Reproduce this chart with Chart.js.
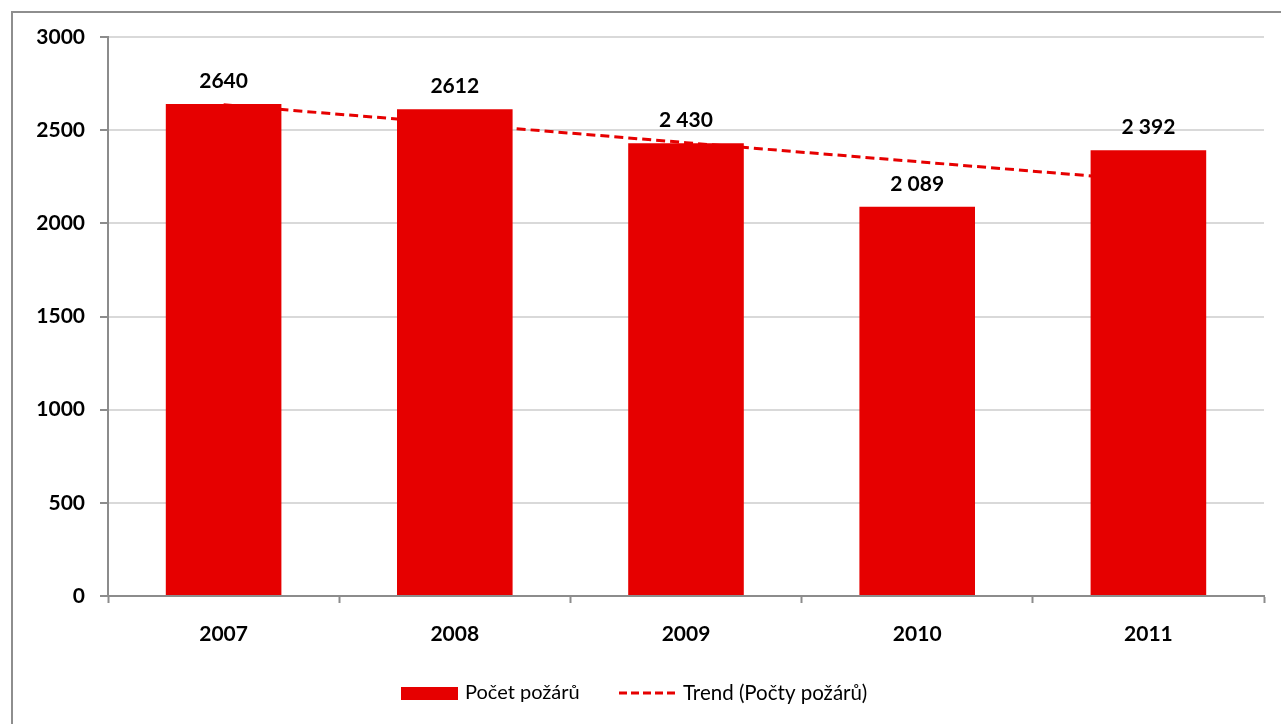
<!DOCTYPE html>
<html>
<head>
<meta charset="utf-8">
<script src="https://cdn.jsdelivr.net/npm/chart.js@4.4.1/dist/chart.umd.min.js"></script>
<style>
html,body{margin:0;padding:0;background:#fff;}
#wrap{position:relative;width:1281px;height:724px;}
</style>
</head>
<body>
<div id="wrap"><canvas id="c" width="1281" height="724"></canvas></div>
<script>
const categories = ["2007", "2008", "2009", "2010", "2011"];
const fireCounts = [2640, 2612, 2430, 2089, 2392];
const valueLabels = ["2640", "2612", "2 430", "2 089", "2 392"];
const trendValues = [2636, 2535, 2433, 2331, 2229];
const yTicks = [0, 500, 1000, 1500, 2000, 2500, 3000];
const seriesNames = ["Počet požárů", "Trend (Počty požárů)"];

const RED = "#e60000";
const AXIS = "#8c8c8c";
const FONT = "Lato, 'Open Sans', sans-serif";

const framePlugin = {
  id: "frame",
  beforeDraw(chart) {
    const ctx = chart.ctx;
    ctx.save();
    ctx.fillStyle = "#fff";
    ctx.fillRect(0, 0, chart.width, chart.height);
    ctx.strokeStyle = "#8e8e8e";
    ctx.lineWidth = 2;
    ctx.beginPath();
    ctx.moveTo(12, chart.height);
    ctx.lineTo(12, 12);
    ctx.lineTo(chart.width, 12);
    ctx.stroke();
    ctx.restore();
  }
};

const labelPlugin = {
  id: "valueLabels",
  afterDatasetsDraw(chart) {
    const ctx = chart.ctx;
    const meta = chart.getDatasetMeta(0);
    ctx.save();
    ctx.font = "bold 21px " + FONT;
    ctx.fillStyle = "#000";
    ctx.textAlign = "center";
    ctx.textBaseline = "alphabetic";
    meta.data.forEach((bar, i) => {
      ctx.fillText(valueLabels[i], bar.x, bar.y - 16);
    });
    ctx.restore();
  }
};

const legendPlugin = {
  id: "customLegend",
  afterDraw(chart) {
    const ctx = chart.ctx;
    ctx.save();
    const y = 693;
    ctx.fillStyle = RED;
    ctx.fillRect(401, 687, 57, 13);
    ctx.font = "20px " + FONT;
    ctx.fillStyle = "#000";
    ctx.textAlign = "left";
    ctx.textBaseline = "middle";
    ctx.fillText(seriesNames[0], 465, y);
    ctx.strokeStyle = RED;
    ctx.lineWidth = 3;
    ctx.setLineDash([8, 4]);
    ctx.beginPath();
    ctx.moveTo(619, y);
    ctx.lineTo(679, y);
    ctx.stroke();
    ctx.setLineDash([]);
    ctx.font = "20.5px " + FONT;
    ctx.fillText(seriesNames[1], 683, y);
    ctx.restore();
  }
};

new Chart(document.getElementById("c"), {
  type: "bar",
  data: {
    labels: categories,
    datasets: [
      {
        type: "bar",
        label: seriesNames[0],
        data: fireCounts,
        backgroundColor: RED,
        borderWidth: 0,
        categoryPercentage: 1.0,
        barPercentage: 0.5,
        order: 1
      },
      {
        type: "line",
        label: seriesNames[1],
        data: trendValues,
        borderColor: RED,
        borderWidth: 3,
        borderDash: [9, 5],
        pointRadius: 0,
        fill: false,
        tension: 0,
        order: 2
      }
    ]
  },
  options: {
    responsive: false,
    animation: false,
    devicePixelRatio: 1,
    layout: { padding: { top: 37, right: 17, bottom: 0, left: 0 } },
    plugins: {
      legend: { display: false },
      tooltip: { enabled: false }
    },
    scales: {
      x: {
        offset: true,
        grid: {
          offset: true,
          drawOnChartArea: false,
          drawTicks: true,
          tickLength: 7,
          tickColor: AXIS,
          tickWidth: 2
        },
        border: { color: AXIS, width: 2 },
        ticks: {
          color: "#000",
          font: { family: FONT, size: 21, weight: "bold" },
          padding: 19
        },
        afterFit(s) { s.height = 128; }
      },
      y: {
        min: 0,
        max: 3000,
        afterBuildTicks(s) { s.ticks = yTicks.map(v => ({ value: v })); },
        grid: {
          color: "#d9d9d9",
          lineWidth: 2,
          tickColor: AXIS,
          tickWidth: 2,
          tickLength: 8
        },
        border: { color: AXIS, width: 2 },
        ticks: {
          color: "#000",
          font: { family: FONT, size: 21, weight: "bold" },
          padding: 15,
          callback: (v) => String(v)
        },
        afterFit(s) { s.width = 108; }
      }
    }
  },
  plugins: [framePlugin, labelPlugin, legendPlugin]
});
</script>
</body>
</html>
